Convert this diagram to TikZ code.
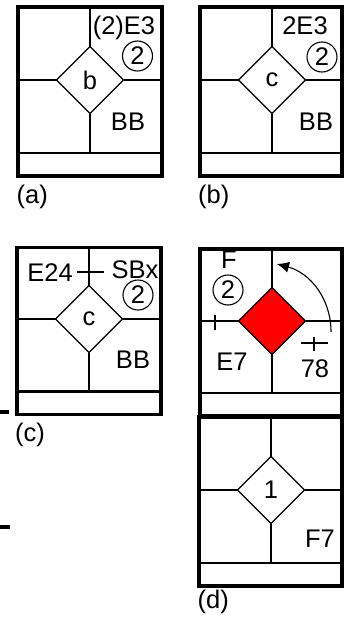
\documentclass[tikz,border=0pt]{standalone}
\usepackage{fontspec}
\setmainfont{Liberation Sans}
\usetikzlibrary{arrows.meta,positioning,shapes.geometric}
\definecolor{cellred}{RGB}{255,0,0}

\begin{document}
\begin{tikzpicture}[x=1pt,y=-1pt,
  txt/.style={font=\fontsize{25.5}{30}\selectfont,inner sep=0pt},
  frame/.style={draw,rectangle,line width=3.2pt,outer sep=0pt,inner sep=0pt},
  strip/.style={draw,rectangle,line width=2.6pt,outer sep=0pt,inner sep=0pt,anchor=south,minimum height=23pt},
  wall/.style={line width=2.6pt},
  junc/.style={draw,diamond,aspect=1,line width=1.2pt,outer sep=0pt,inner sep=0pt,minimum width=67pt,minimum height=67pt,font=\fontsize{25.5}{30}\selectfont},
  ring/.style={draw,circle,line width=1.1pt,minimum size=30pt,inner sep=0pt,font=\fontsize{25.5}{30}\selectfont}]
  \useasboundingbox (0,0) rectangle (344,621);
  % panel (a)
  \node[frame,minimum width=144pt,minimum height=169pt] (pa) at (90,91.5) {};
  \node[strip,minimum width=144pt] (sa) at (pa.south) {};
  \node[junc] (ja) at (90,80) {b};
  \draw[wall] (ja.north) -- (ja.north |- pa.north) (ja.south) -- (ja.south |- sa.north)
    (ja.west) -- (ja.west -| pa.west) (ja.east) -- (ja.east -| pa.east);
  \node[txt,anchor=base] (ea) at (124,34) {(2)E3};
  \node[ring] (ra) at (137.5,56) {2};
  \node[txt,anchor=base] (ba) at (128,130) {BB};
  \node[txt,anchor=base west] (la) at (16.5,203) {(a)};
  % panel (b)
  \node[frame,minimum width=142pt,minimum height=169pt] (pb) at (271,91.5) {};
  \node[strip,minimum width=142pt] (sb) at (pb.south) {};
  \node[junc] (jb) at (272,80) {c};
  \draw[wall] (jb.north) -- (jb.north |- pb.north) (jb.south) -- (jb.south |- sb.north)
    (jb.west) -- (jb.west -| pb.west) (jb.east) -- (jb.east -| pb.east);
  \node[txt,anchor=base] (eb) at (305,34) {2E3};
  \node[ring] (rb) at (322,57) {2};
  \node[txt,anchor=base] (bb) at (316,130) {BB};
  \node[txt,anchor=base west] (lb) at (198,203) {(b)};
  % panel (c)
  \node[frame,minimum width=144pt,minimum height=167pt] (pc) at (89,330.7) {};
  \node[strip,minimum width=144pt] (sc) at (pc.south) {};
  \node[junc] (jc) at (89,319) {c};
  \draw[wall] (jc.north) -- (jc.north |- pc.north) (jc.south) -- (jc.south |- sc.north)
    (jc.west) -- (jc.west -| pc.west) (jc.east) -- (jc.east -| pc.east);
  \coordinate (xl) at (77,272); \coordinate (xr) at (104,272);
  \draw[wall] (xl) -- (xr);
  \node[txt,anchor=base] (ec) at (50,281) {E24};
  \node[txt,anchor=base] (sbx) at (135,278) {SBx};
  \node[ring] (rc) at (138,295) {2};
  \node[txt,anchor=base] (bc) at (133,368) {BB};
  \node[txt,anchor=base west] (lc) at (15,441) {(c)};
  % stray ends on the left
  \coordinate (s1a) at (0,412); \coordinate (s1b) at (9,412);
  \coordinate (s2a) at (0,527); \coordinate (s2b) at (10,527);
  \draw[line width=3.2pt] (s1a) -- (s1b) (s2a) -- (s2b);
  % panel (d), upper cell
  \node[frame,minimum width=142pt,minimum height=167pt] (pu) at (271,332.5) {};
  \node[strip,minimum width=142pt] (su) at (pu.south) {};
  \node[junc,fill=cellred] (ju) at (272,321) {};
  \draw[wall] (ju.north) -- (ju.north |- pu.north) (ju.south) -- (ju.south |- su.north)
    (ju.west) -- (ju.west -| pu.west) (ju.east) -- (ju.east -| pu.east);
  \node[txt,anchor=base] (fu) at (229,268) {F};
  \node[ring] (ru) at (228,290) {2};
  \coordinate (tu1) at (215,315); \coordinate (tu2) at (215,330);
  \draw[wall] (tu1) -- (tu2);
  \node[txt,anchor=base] (eu) at (232,370) {E7};
  \coordinate (ph1) at (301,343); \coordinate (ph2) at (328,343);
  \coordinate (pv1) at (314,337); \coordinate (pv2) at (314,351);
  \draw[wall] (ph1) -- (ph2) (pv1) -- (pv2);
  \node[txt,anchor=base] (nu) at (315,377) {78};
  \coordinate (arS) at (331,332); \coordinate (arE) at (277,264);
  \draw[line width=1.1pt,-{Latex[length=12pt,width=11pt]}] (arS) to[out=90,in=-15] (arE);
  % panel (d), lower cell
  \node[frame,minimum width=143pt,minimum height=169pt] (pd) at (270.5,501.5) {};
  \node[strip,minimum width=143pt] (sd) at (pd.south) {};
  \node[junc] (jd) at (271,490) {1};
  \draw[wall] (jd.north) -- (jd.north |- pd.north) (jd.south) -- (jd.south |- sd.north)
    (jd.west) -- (jd.west -| pd.west) (jd.east) -- (jd.east -| pd.east);
  \node[txt,anchor=base] (fd) at (320,547) {F7};
  \node[txt,anchor=base west] (ld) at (197.5,608) {(d)};
\end{tikzpicture}
\end{document}
